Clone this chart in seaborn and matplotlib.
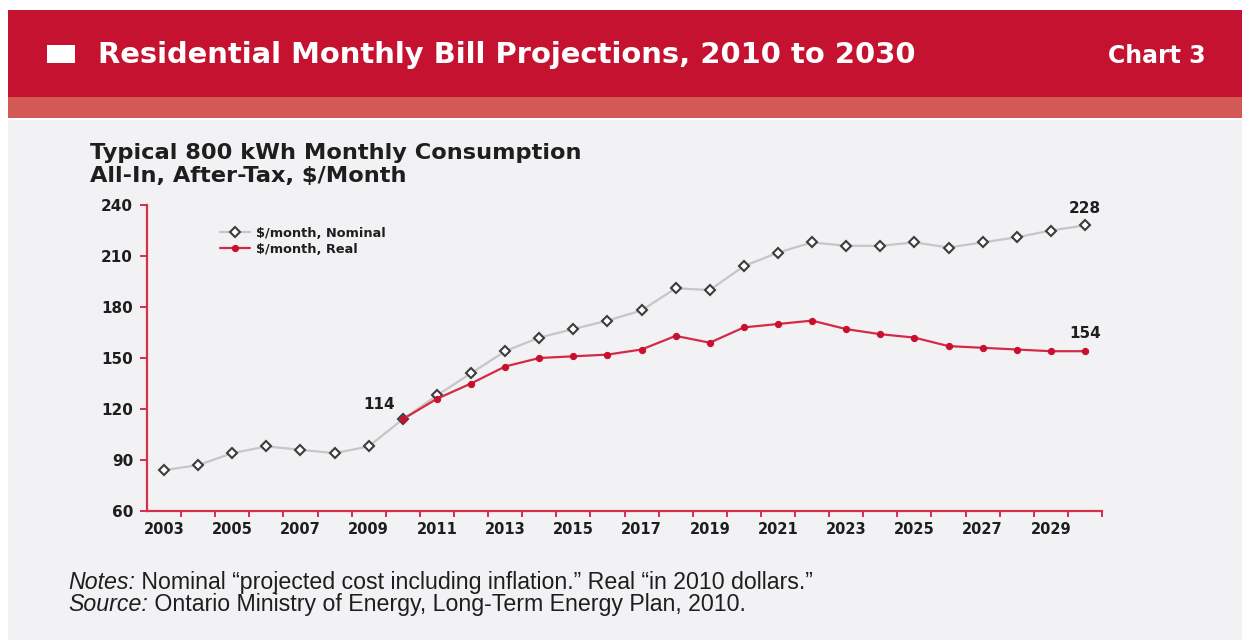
import numpy as np
import pandas as pd
import matplotlib
matplotlib.use("Agg")
import matplotlib.pyplot as plt
from matplotlib.patches import Rectangle
import seaborn as sns

# ---- data -------------------------------------------------------------
years = list(range(2003, 2031))
nominal = [84, 87, 94, 98, 96, 94, 98, 114, 128, 141, 154, 162, 167, 172,
           178, 191, 190, 204, 212, 218, 216, 216, 218, 215, 218, 221, 225, 228]
real_years = list(range(2010, 2031))
real = [114, 126, 135, 145, 150, 151, 152, 155, 163, 159, 168, 170, 172,
        167, 164, 162, 157, 156, 155, 154, 154]

series_names = ["$/month, Nominal", "$/month, Real"]
x_tick_years = list(range(2003, 2031, 2))
y_ticks = [60, 90, 120, 150, 180, 210, 240]
labelled = [(2010, 114), (2030, 228), (2030, 154)]

header_title = "Residential Monthly Bill Projections, 2010 to 2030"
header_tag = "Chart 3"
subtitle_1 = "Typical 800 kWh Monthly Consumption"
subtitle_2 = "All-In, After-Tax, $/Month"
notes_lead, notes_body = "Notes:", " Nominal \u201cprojected cost including inflation.\u201d Real \u201cin 2010 dollars.\u201d"
source_lead, source_body = "Source:", " Ontario Ministry of Energy, Long-Term Energy Plan, 2010."

# ---- style ------------------------------------------------------------
sns.set_style("white")
plt.rcParams["font.family"] = ["DejaVu Sans"]
NOTE_FONT = ["Liberation Sans", "DejaVu Sans"]

RED = "#c41230"
SALMON = "#d35a54"
PANEL = "#f2f2f4"
AXIS_RED = "#d3304c"
LINE_RED = "#d42a47"
DOT_RED = "#c8102e"
INK = "#1e1e1e"

W, H = 1242, 640
fig = plt.figure(figsize=(W / 100, H / 100), dpi=100, facecolor="white")

# background canvas in pixel coordinates
bg = fig.add_axes([0, 0, 1, 1], zorder=0)
bg.set_xlim(0, W)
bg.set_ylim(H, 0)
bg.axis("off")
bg.add_patch(Rectangle((8, 120), W - 8, H - 120, color=PANEL, lw=0))
bg.add_patch(Rectangle((8, 10), W - 8, 87, color=RED, lw=0))
bg.add_patch(Rectangle((8, 97), W - 8, 21, color=SALMON, lw=0))
bg.add_patch(Rectangle((47, 45), 28, 18, color="white", lw=0))

renderer = fig.canvas.get_renderer()


def fit_width(artists, target):
    """Rescale the font of a group of text artists so they span `target` px."""
    fs = artists[0].get_fontsize()
    width = sum(a.get_window_extent(renderer).width for a in artists)
    new_fs = fs * target / width
    for a in artists:
        a.set_fontsize(new_fs)
    return new_fs


t = bg.text(98, 55, header_title, color="white", fontweight="bold",
            fontsize=18, ha="left", va="center")
fit_width([t], 820)
t = bg.text(1108, 56, header_tag, color="white", fontweight="bold",
            fontsize=13, ha="left", va="center")
fit_width([t], 97)

t = bg.text(90, 153, subtitle_1, color=INK, fontweight="bold",
            fontsize=13, ha="left", va="center")
sub_fs = fit_width([t], 488)
t = bg.text(90, 176, subtitle_2, color=INK, fontweight="bold",
            fontsize=sub_fs, ha="left", va="center")

# footnotes: italic lead-in followed by upright text on a shared baseline
note_fs = None
for y, lead, body in [(589, notes_lead, notes_body),
                      (611, source_lead, source_body)]:
    a = bg.text(68, y, lead, color=INK, style="italic", family=NOTE_FONT,
                fontsize=note_fs or 12, ha="left", va="baseline")
    b = bg.text(68, y, body, color=INK, family=NOTE_FONT,
                fontsize=note_fs or 12, ha="left", va="baseline")
    if note_fs is None:
        note_fs = fit_width([a, b], 747)
    b.set_x(68 + a.get_window_extent(renderer).width)

# ---- chart ------------------------------------------------------------
left, right, top, bottom = 147, 1102, 205, 511
ax = fig.add_axes([left / W, 1 - bottom / H, (right - left) / W,
                   (bottom - top) / H], zorder=1)
ax.set_facecolor("none")

df_nom = pd.DataFrame({"year": years, "value": nominal})
df_real = pd.DataFrame({"year": real_years, "value": real})

sns.lineplot(data=df_nom, x="year", y="value", ax=ax, color="#c6c6c6",
             lw=1.6, marker="D", markersize=5, markerfacecolor="white",
             markeredgecolor="#3c3c3c", markeredgewidth=1.5,
             label=series_names[0], zorder=2)
sns.lineplot(data=df_real, x="year", y="value", ax=ax, color=LINE_RED,
             lw=1.6, marker="o", markersize=4.5, markerfacecolor=DOT_RED,
             markeredgecolor=DOT_RED, label=series_names[1], zorder=3)

ax.set_xlim(years[0] - 0.5, years[-1] + 0.5)
ax.set_ylim(y_ticks[0], y_ticks[-1])
ax.set_xlabel("")
ax.set_ylabel("")

for side in ["top", "right"]:
    ax.spines[side].set_visible(False)
for side in ["left", "bottom"]:
    ax.spines[side].set_color(AXIS_RED)
    ax.spines[side].set_linewidth(1.6)

ax.set_yticks(y_ticks)
ax.set_yticklabels([str(v) for v in y_ticks], fontweight="bold",
                   fontsize=11, color=INK)
ax.tick_params(axis="y", direction="out", length=5, width=1.4,
               color=AXIS_RED, pad=5, left=True)

ax.set_xticks(x_tick_years)
ax.set_xticklabels([str(v) for v in x_tick_years], fontweight="bold",
                   fontsize=10.5, color=INK)
ax.set_xticks(np.arange(years[0] + 0.5, years[-1] + 1), minor=True)
ax.tick_params(axis="x", which="major", length=0, pad=8, bottom=True)
ax.tick_params(axis="x", which="minor", direction="out", length=4,
               width=1.4, color=AXIS_RED, bottom=True)

for yr, val in labelled:
    if yr == years[-1]:
        ax.annotate(str(val), xy=(yr, val), xytext=(0, 7),
                    textcoords="offset points", ha="center", va="bottom",
                    fontweight="bold", fontsize=11, color=INK)
    else:
        ax.annotate(str(val), xy=(yr, val), xytext=(-6, 5),
                    textcoords="offset points", ha="right", va="bottom",
                    fontweight="bold", fontsize=11, color=INK)

leg = ax.legend(loc="upper left", bbox_to_anchor=(220 / W, 1 - 227 / H),
                bbox_transform=fig.transFigure, frameon=False,
                prop={"weight": "bold", "size": 9.3}, handlelength=2.3,
                handletextpad=0.5, labelspacing=0.2, borderpad=0,
                borderaxespad=0)
for txt in leg.get_texts():
    txt.set_color(INK)

fig.savefig("out.png", dpi=100, facecolor="white")
